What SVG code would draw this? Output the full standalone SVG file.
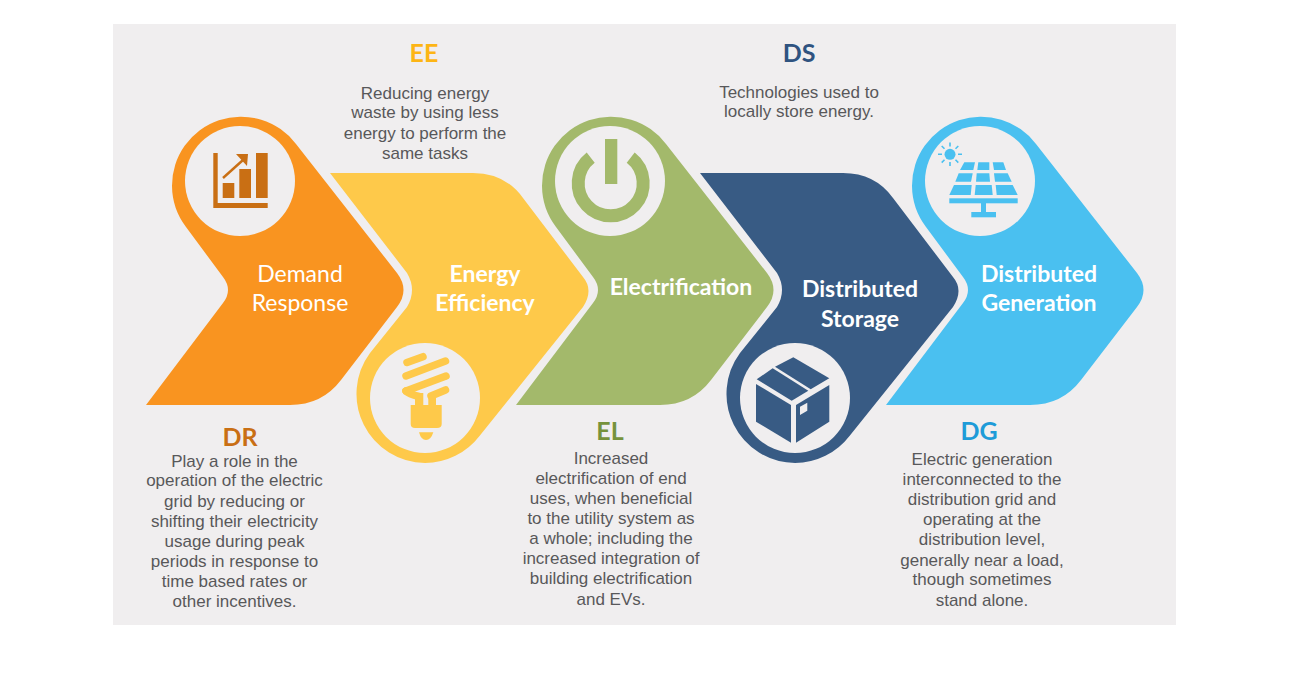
<svg xmlns="http://www.w3.org/2000/svg" width="1302" height="676" viewBox="0 0 1302 676">
<style>
.hd{font-family:"Lato","Liberation Sans",sans-serif;font-weight:700;font-size:25px;text-anchor:middle}
.lb{font-family:"Lato","Liberation Sans",sans-serif;font-size:23px;fill:#fff;text-anchor:middle}
.b{font-weight:700}
.tx{font-family:"Liberation Sans",Arial,sans-serif;font-size:17px;fill:#58585a;text-anchor:middle}
.hole{fill:#f0eeef}
</style>
<defs>
<path id="up" d="M146 405H290Q322 405 341 380L397 307Q410 290 397 273L296 144A69 69 0 0 0 172 186A69 69 0 0 0 186 227L223 277Q233 290 223 303Z"/>
<path id="down" d="M330 173H473Q505 173 523 198L583 277Q594 290 583 307L479.500 436A69 69 0 0 1 425 463A69 69 0 0 1 370 353L407 307Q417 290 407 273Z"/>
</defs>
<rect width="1302" height="676" fill="#fff"/>
<rect x="113" y="24" width="1063" height="601" fill="#f0eeef"/>
<g id="connectors"></g>
<g id="node-dr">
<use href="#up" fill="#f99420"/>
<circle class="hole" cx="240" cy="181" r="55"/>
<g fill="#c96f14">
<path d="M213.300 153h4.400v50H267.700v5H213.300z"/>
<rect x="222.700" y="183" width="11.600" height="15"/>
<rect x="239.300" y="169" width="11.700" height="29"/>
<rect x="256" y="153" width="11.700" height="45"/>
<path d="M223 178L243 160" stroke="#c96f14" stroke-width="2.400" fill="none"/>
<path d="M236 154L248 154L247 166Z"/>
</g>
<text class="lb" x="300" y="282">Demand</text>
<text class="lb" x="300" y="311">Response</text>
</g>
<g id="node-ee">
<use href="#down" fill="#fec94a"/>
<circle class="hole" cx="425" cy="398" r="55"/>
<g fill="none" stroke="#fec94a" stroke-width="7.500" stroke-linecap="round">
<path d="M407 362.500L423 356.700"/>
<path d="M406 376L445.500 361"/>
<path d="M406 391L446 376"/>
<path d="M406 391Q409 394 419 396.500"/>
<path d="M431 396L445.500 390"/>
</g>
<g fill="#fec94a">
<path d="M415 393H423.300V405H428.300V396L436 393V405H441.700V424Q441.700 428 437 428H415Q410.700 428 410.700 424V405H415Z"/>
<path d="M419 432.300H433.300Q431 440 426 440Q421 440 419 432.300Z"/>
</g>
<text class="lb b" x="485" y="282">Energy</text>
<text class="lb b" x="485" y="311">Efficiency</text>
</g>
<g id="node-el">
<use href="#up" x="370" fill="#a3b96b"/>
<circle class="hole" cx="610" cy="181" r="55"/>
<path d="M630.700 157.700A32.500 32.500 0 1 1 590.700 157.700" fill="none" stroke="#a3b96b" stroke-width="13"/>
<rect x="605" y="139" width="12.300" height="45" fill="#a3b96b"/>
<text class="lb b" x="681" y="295">Electrification</text>
</g>
<g id="node-ds">
<use href="#down" x="370" fill="#385b84"/>
<circle class="hole" cx="795" cy="398" r="55"/>
<g fill="#385b84">
<path d="M793.300 357.300L829.300 378.300L810.700 389.300L775 366.700Z"/>
<path d="M772.700 368.300L808.300 390.700L791.700 400.700L756.700 379.300Z"/>
<path d="M756 384L791 405V442.700L756 421.700Z"/>
<path d="M796 405L829.300 385V421.700L796 442.700ZM800 406.700V415L807.300 410.700V402.700Z" fill-rule="evenodd"/>
</g>
<text class="lb b" x="860" y="297">Distributed</text>
<text class="lb b" x="860" y="327">Storage</text>
</g>
<g id="node-dg">
<use href="#up" x="740" fill="#4ac0f0"/>
<circle class="hole" cx="980" cy="181" r="55"/>
<g fill="#4ac0f0">
<circle cx="950" cy="154.300" r="5.500"/>
<path d="M950 142.500v4M950 162v4M938 154.300h4M958 154.300h4M941.700 146l2.800 2.800M955.500 159.800l2.800 2.800M941.700 162.600l2.800-2.800M955.500 148.800l2.800-2.800" stroke="#4ac0f0" stroke-width="1.600" fill="none"/>
<path d="M964.300 162.300H975L973.300 170H960Z"/>
<path d="M978.300 162.300H989.300V170H977.300Z"/>
<path d="M992.700 162.300H1003.300L1006 170H994Z"/>
<path d="M958.700 173.300H972.700L971 181.700H955.300Z"/>
<path d="M976.700 173.300H989.300L990 181.700H976Z"/>
<path d="M994 173.300H1007.700L1011.700 181.700H995Z"/>
<path d="M954 185H971.700L970.700 195H949.300Z"/>
<path d="M975.700 185H991.700L992.700 195H974.700Z"/>
<path d="M995.700 185H1012.700L1017.700 195H996.700Z"/>
<rect x="949.300" y="198.300" width="68.400" height="5"/>
<rect x="981" y="203" width="5" height="9"/>
<rect x="971.300" y="212" width="24.700" height="5.300"/>
</g>
<text class="lb b" x="1039" y="282">Distributed</text>
<text class="lb b" x="1039" y="311">Generation</text>
</g>
<g id="note-ee">
<text class="hd" x="424" y="62" fill="#fdb515">EE</text>
<text class="tx"><tspan x="425" y="99">Reducing energy</tspan><tspan x="425" y="118">waste by using less</tspan><tspan x="425" y="139">energy to perform the</tspan><tspan x="425" y="159">same tasks</tspan></text>
</g>
<g id="note-ds">
<text class="hd" x="799" y="62" fill="#2f5380">DS</text>
<text class="tx"><tspan x="799" y="98">Technologies used to</tspan><tspan x="799" y="117">locally store energy.</tspan></text>
</g>
<g id="note-dr">
<text class="hd" x="240" y="446" fill="#c96f14">DR</text>
<text class="tx"><tspan x="234.500" y="466.500">Play a role in the</tspan><tspan x="234.500" y="486">operation of the electric</tspan><tspan x="234.500" y="506.500">grid by reducing or</tspan><tspan x="234.500" y="526.500">shifting their electricity</tspan><tspan x="234.500" y="546.500">usage during peak</tspan><tspan x="234.500" y="566.500">periods in response to</tspan><tspan x="234.500" y="586.500">time based rates or</tspan><tspan x="234.500" y="606.500">other incentives.</tspan></text>
</g>
<g id="note-el">
<text class="hd" x="610" y="440" fill="#76923c">EL</text>
<text class="tx"><tspan x="611" y="464">Increased</tspan><tspan x="611" y="484">electrification of end</tspan><tspan x="611" y="504">uses, when beneficial</tspan><tspan x="611" y="524">to the utility system as</tspan><tspan x="611" y="544">a whole; including the</tspan><tspan x="611" y="564">increased integration of</tspan><tspan x="611" y="584">building electrification</tspan><tspan x="611" y="604.500">and EVs.</tspan></text>
</g>
<g id="note-dg">
<text class="hd" x="979" y="440" fill="#1e9bd8">DG</text>
<text class="tx"><tspan x="982" y="465">Electric generation</tspan><tspan x="982" y="485">interconnected to the</tspan><tspan x="982" y="504.500">distribution grid and</tspan><tspan x="982" y="525">operating at the</tspan><tspan x="982" y="544.500">distribution level,</tspan><tspan x="982" y="565.500">generally near a load,</tspan><tspan x="982" y="585">though sometimes</tspan><tspan x="982" y="605.500">stand alone.</tspan></text>
</g>
</svg>
